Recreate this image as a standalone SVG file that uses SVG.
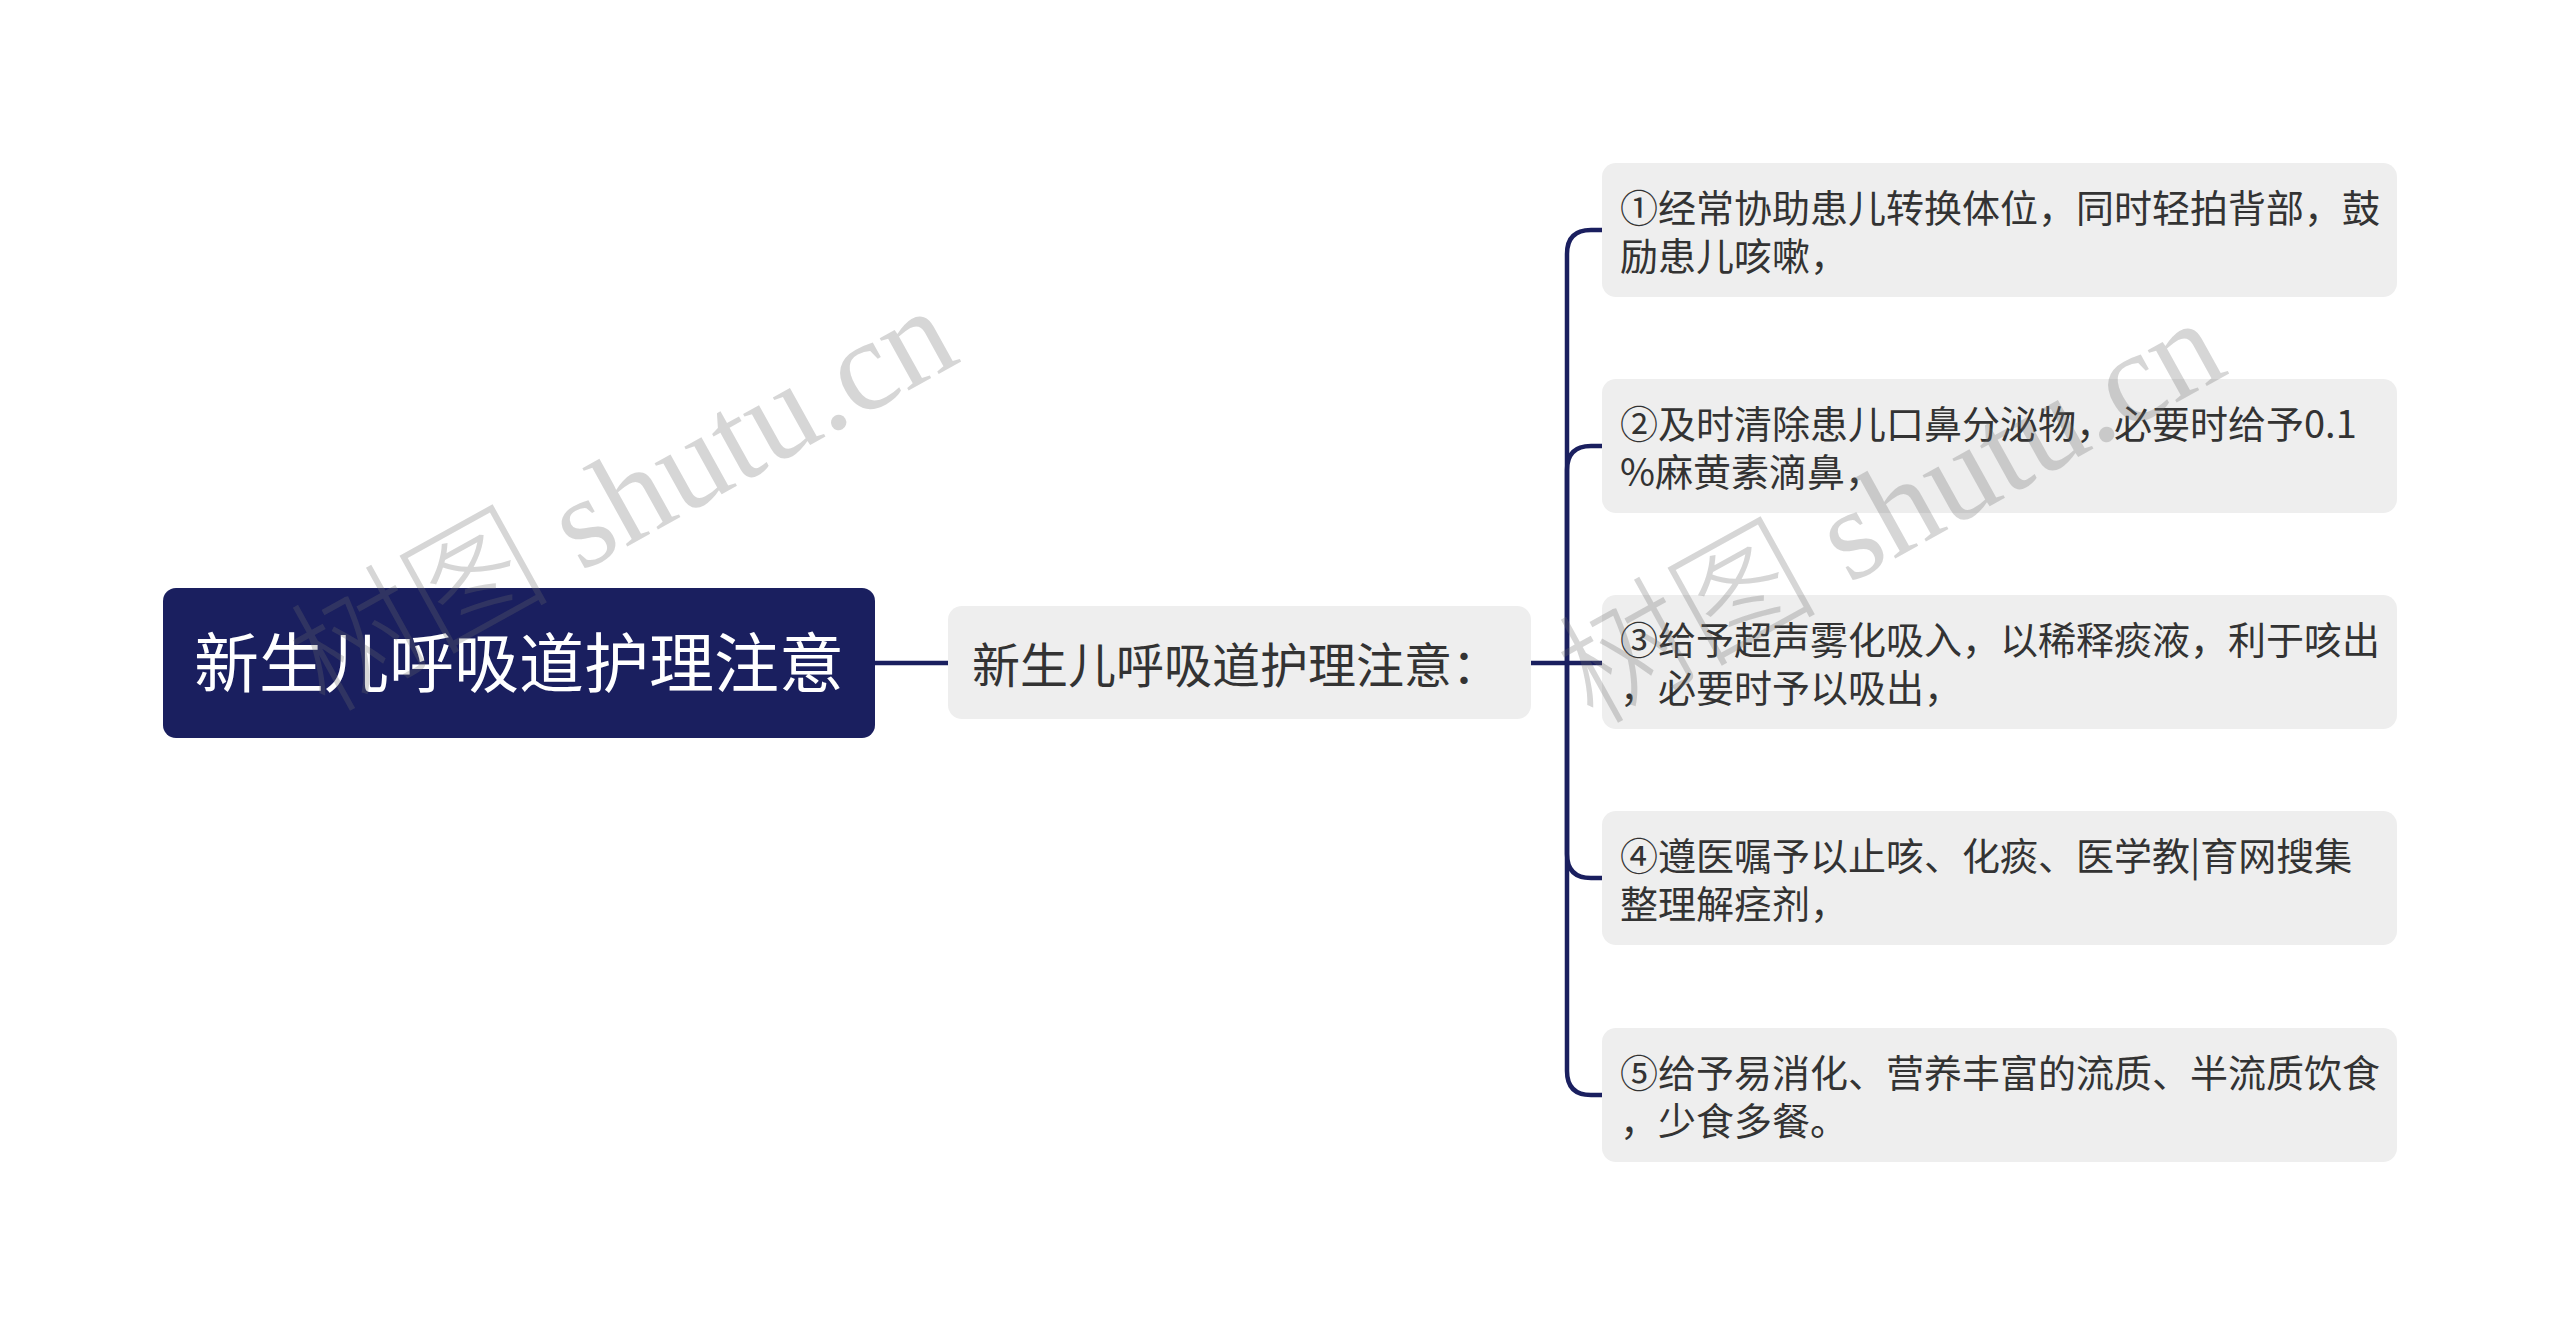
<svg xmlns="http://www.w3.org/2000/svg" width="2560" height="1326" viewBox="0 0 2560 1326">
<style>
.bg{fill:#ffffff}
.root{fill:#1a1f5f}
.box{fill:#eeeeee}
.rt{font-family:"Noto Sans CJK SC","Noto Sans",sans-serif;font-size:65px;fill:#ffffff}
.mt{font-family:"Noto Sans CJK SC","Noto Sans",sans-serif;font-size:48px;fill:#333333}
.ct{font-family:"Noto Sans CJK SC","Noto Sans",sans-serif;font-size:38px;fill:#333333}
.conn{fill:none;stroke:#1a1f5f;stroke-width:4.5}
.wm{font-family:"Liberation Serif","Noto Sans CJK SC",serif;font-size:130px;fill:#6c6c6c;fill-opacity:0.28}
.wmc{font-weight:300}
</style>
<rect class="bg" x="0" y="0" width="2560" height="1326"/>
<g id="connectors">
<path class="conn" d="M875 663 H948"/>
<path class="conn" d="M1531 663 H1602"/>
<path class="conn" d="M1567 663 V254 Q1567 230 1591 230 H1602"/>
<path class="conn" d="M1567 663 V470 Q1567 446 1591 446 H1602"/>
<path class="conn" d="M1567 663 V854 Q1567 878 1591 878 H1602"/>
<path class="conn" d="M1567 663 V1071 Q1567 1095 1591 1095 H1602"/>
</g>
<g id="root">
<rect class="root" x="163" y="588" width="712" height="150" rx="13"/>
<text class="rt" x="519" y="687" text-anchor="middle">新生儿呼吸道护理注意</text>
</g>
<g id="middle">
<rect class="box" x="948" y="606" width="583" height="113" rx="14"/>
<text class="mt" x="972" y="683">新生儿呼吸道护理注意：</text>
</g>
<g id="item1">
<rect class="box" x="1602" y="163" width="795" height="134" rx="14"/>
<text class="ct" x="1620" y="222">①经常协助患儿转换体位，同时轻拍背部，鼓</text>
<text class="ct" x="1620" y="270">励患儿咳嗽，</text>
</g>
<g id="item2">
<rect class="box" x="1602" y="379" width="795" height="134" rx="14"/>
<text class="ct" x="1620" y="438">②及时清除患儿口鼻分泌物，必要时给予0.1</text>
<text class="ct" x="1620" y="486">%麻黄素滴鼻，</text>
</g>
<g id="item3">
<rect class="box" x="1602" y="595" width="795" height="134" rx="14"/>
<text class="ct" x="1620" y="654">③给予超声雾化吸入，以稀释痰液，利于咳出</text>
<text class="ct" x="1620" y="702">，必要时予以吸出，</text>
</g>
<g id="item4">
<rect class="box" x="1602" y="811" width="795" height="134" rx="14"/>
<text class="ct" x="1620" y="870">④遵医嘱予以止咳、化痰、医学教|育网搜集</text>
<text class="ct" x="1620" y="918">整理解痉剂，</text>
</g>
<g id="item5">
<rect class="box" x="1602" y="1028" width="795" height="134" rx="14"/>
<text class="ct" x="1620" y="1087">⑤给予易消化、营养丰富的流质、半流质饮食</text>
<text class="ct" x="1620" y="1135">，少食多餐。</text>
</g>
<g id="watermarks">
<text class="wm" transform="translate(325 714) rotate(-29)"><tspan class="wmc">树图</tspan> shutu.cn</text>
<text class="wm" transform="translate(1593 726) rotate(-29)"><tspan class="wmc">树图</tspan> shutu.cn</text>
</g>
</svg>
